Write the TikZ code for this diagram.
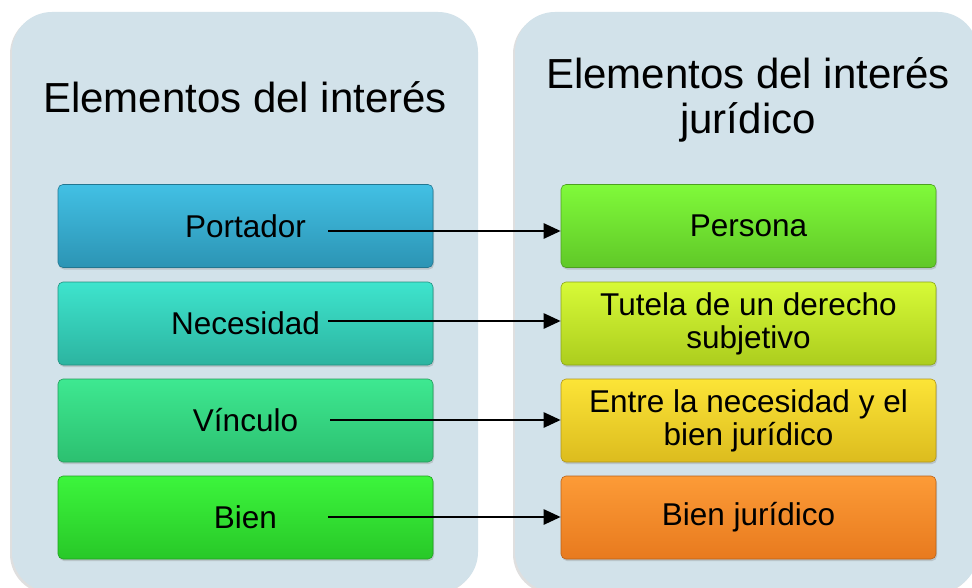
\documentclass[tikz,border=0pt]{standalone}
\usepackage{fontspec}
\setmainfont{Liberation Sans}
\usetikzlibrary{arrows.meta,shadows}
\definecolor{panelbg}{RGB}{210,226,234}
\definecolor{cAt}{RGB}{66,192,228}\definecolor{cAb}{RGB}{44,148,180}
\definecolor{cBt}{RGB}{62,228,205}\definecolor{cBb}{RGB}{44,180,160}
\definecolor{cCt}{RGB}{62,232,145}\definecolor{cCb}{RGB}{44,192,112}
\definecolor{cDt}{RGB}{60,245,60}\definecolor{cDb}{RGB}{40,200,40}
\definecolor{cEt}{RGB}{128,250,58}\definecolor{cEb}{RGB}{96,200,40}
\definecolor{cFt}{RGB}{215,250,55}\definecolor{cFb}{RGB}{172,205,30}
\definecolor{cGt}{RGB}{252,228,55}\definecolor{cGb}{RGB}{220,188,30}
\definecolor{cHt}{RGB}{252,155,55}\definecolor{cHb}{RGB}{232,122,30}
\tikzset{
  panel/.style={fill=panelbg, rounded corners=40pt, draw=none,
    drop shadow={shadow xshift=-2pt, shadow yshift=-2pt, opacity=0.25}},
  itembox/.style={draw=#1b!80!black, line width=0.6pt, top color=#1t, bottom color=#1b,
    rounded corners=5pt, minimum width=375pt, minimum height=83pt,
    inner sep=0pt, align=center, font=\fontsize{31.5}{33}\selectfont,
    drop shadow={shadow xshift=1pt, shadow yshift=-2pt, opacity=0.3}},
  titletext/.style={font=\fontsize{42}{45}\selectfont, align=center, inner sep=0pt},
  connarrow/.style={line width=2.6pt, draw=black, -{Triangle[length=17pt,width=15pt]}}
}
\begin{document}
\begin{tikzpicture}
\begin{scope}[x=1pt,y=-1pt]
\useasboundingbox (0,0) rectangle (972,588);
\fill[white] (0,0) rectangle (972,588);
\path[panel] (12,12) rectangle (478,592);
\path[panel] (515,12) rectangle (978,592);
\node[titletext] (tl) at (245,97) {Elementos del interés};
\node[titletext] (tr) at (748,100) {Elementos del interés\\jurídico};
\node[itembox=cA] (l1) at (245.5,226) {Portador};
\node[itembox=cB] (l2) at (245.5,323.5) {Necesidad};
\node[itembox=cC] (l3) at (245.5,420.5) {Vínculo};
\node[itembox=cD] (l4) at (245.5,517.5) {Bien};
\node[itembox=cE] (r1) at (748.5,226) {Persona};
\node[itembox=cF] (r2) at (748.5,323.5) {Tutela de un derecho\\subjetivo};
\node[itembox=cG] (r3) at (748.5,420.5) {Entre la necesidad y el\\bien jurídico};
\node[itembox=cH] (r4) at (748.5,517.5) {Bien jurídico};
\coordinate (s1) at (328,231);
\coordinate (s2) at (328,321);
\coordinate (s3) at (330,420);
\coordinate (s4) at (328,517);
\end{scope}
\draw[connarrow] (s1) -- (s1 -| r1.west);
\draw[connarrow] (s2) -- (s2 -| r2.west);
\draw[connarrow] (s3) -- (s3 -| r3.west);
\draw[connarrow] (s4) -- (s4 -| r4.west);
\end{tikzpicture}
\end{document}
